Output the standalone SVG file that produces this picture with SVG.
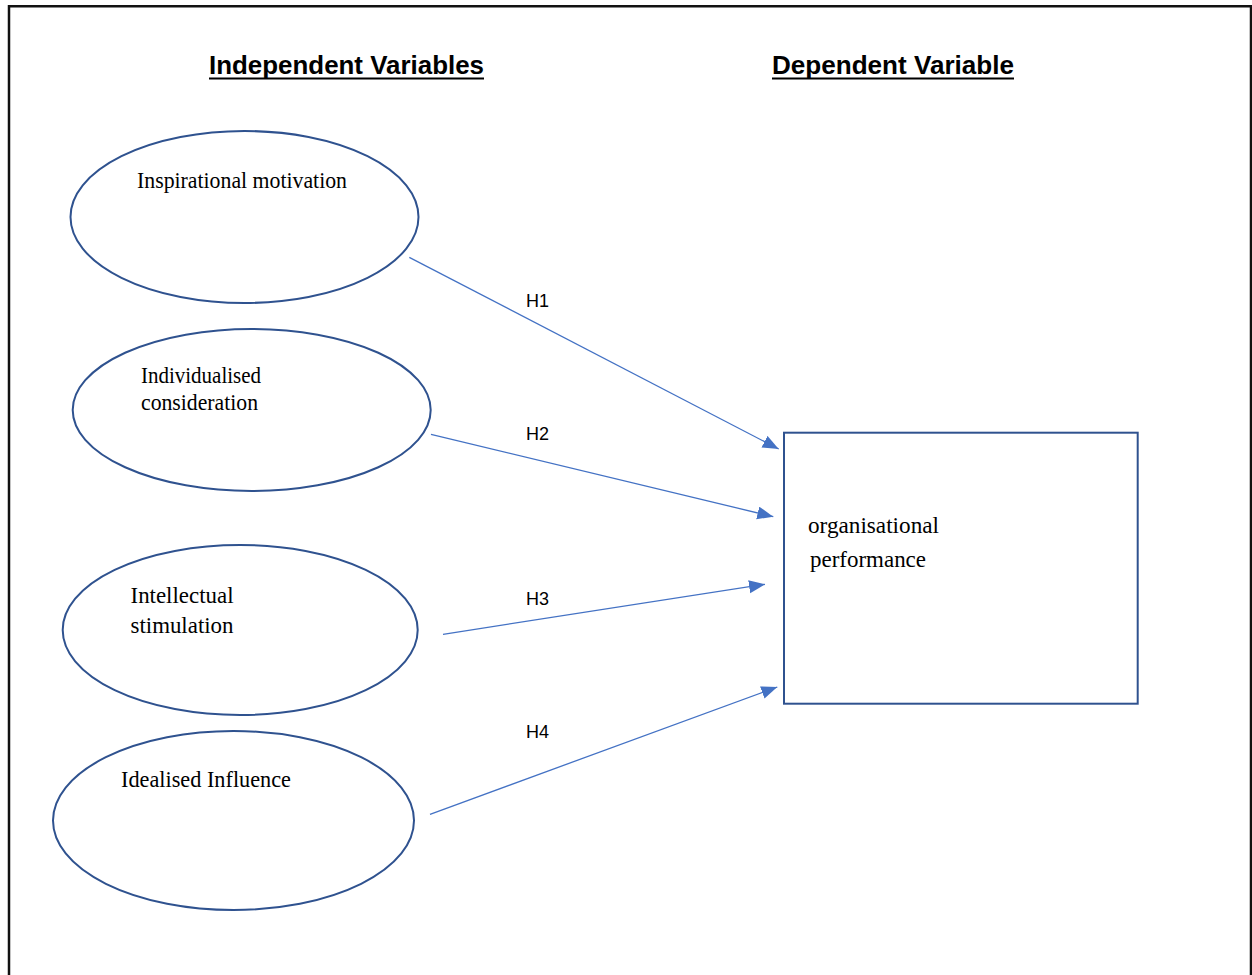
<svg xmlns="http://www.w3.org/2000/svg" width="1252" height="975" viewBox="0 0 1252 975">
  <style>
    .frame { fill: none; stroke: #111111; stroke-width: 2.5; }
    .title { font-family: "Liberation Sans", Arial, sans-serif; font-weight: bold; font-size: 26px; fill: #000000; }
    .uline { stroke: #000000; stroke-width: 2; }
    .node { fill: #ffffff; stroke: #2F528F; stroke-width: 2; }
    .label { font-family: "Liberation Serif", "Times New Roman", serif; font-size: 23px; fill: #000000; }
    .edge { fill: none; stroke: #4472C4; stroke-width: 1.3; marker-end: url(#arrow); }
    .hyp { font-family: "Liberation Sans", Arial, sans-serif; font-size: 18px; fill: #000000; }
  </style>
  <defs>
    <marker id="arrow" markerUnits="userSpaceOnUse" markerWidth="17" markerHeight="14" refX="16" refY="6.5" orient="auto">
      <path d="M0,0 L16,6.5 L0,13 z" fill="#4472C4"/>
    </marker>
  </defs>

  <rect width="1252" height="975" fill="#ffffff"/>

  <!-- page frame: open at the bottom -->
  <path class="frame" d="M9,975 L9,6.3 L1251,6.3 L1251,975"/>

  <!-- column headings -->
  <g id="heading-independent">
    <text class="title" x="209" y="74" textLength="275" lengthAdjust="spacingAndGlyphs">Independent Variables</text>
    <line class="uline" x1="209" y1="78.5" x2="484" y2="78.5"/>
  </g>
  <g id="heading-dependent">
    <text class="title" x="772" y="74" textLength="242" lengthAdjust="spacingAndGlyphs">Dependent Variable</text>
    <line class="uline" x1="772" y1="78.5" x2="1014" y2="78.5"/>
  </g>

  <!-- independent variables -->
  <g id="inspirational-motivation">
    <ellipse class="node" cx="244.5" cy="217" rx="174" ry="86"/>
    <text class="label" x="137" y="188" textLength="210" lengthAdjust="spacingAndGlyphs">Inspirational motivation</text>
  </g>
  <g id="individualised-consideration">
    <ellipse class="node" cx="251.7" cy="410" rx="179" ry="81"/>
    <text class="label" x="141" y="383" textLength="120" lengthAdjust="spacingAndGlyphs">Individualised</text>
    <text class="label" x="141" y="410" textLength="117" lengthAdjust="spacingAndGlyphs">consideration</text>
  </g>
  <g id="intellectual-stimulation">
    <ellipse class="node" cx="240.2" cy="630" rx="177.5" ry="85"/>
    <text class="label" x="130.5" y="603.3" textLength="103" lengthAdjust="spacingAndGlyphs">Intellectual</text>
    <text class="label" x="130.5" y="633" textLength="103" lengthAdjust="spacingAndGlyphs">stimulation</text>
  </g>
  <g id="idealised-influence">
    <ellipse class="node" cx="233.5" cy="820.5" rx="180.5" ry="89.5"/>
    <text class="label" x="121" y="787" textLength="170" lengthAdjust="spacingAndGlyphs">Idealised Influence</text>
  </g>

  <!-- dependent variable -->
  <g id="organisational-performance">
    <rect class="node" x="784" y="432.7" width="353.7" height="271"/>
    <text class="label" x="808" y="533" textLength="131" lengthAdjust="spacingAndGlyphs">organisational</text>
    <text class="label" x="810" y="567" textLength="116" lengthAdjust="spacingAndGlyphs">performance</text>
  </g>

  <!-- hypothesised paths -->
  <g id="connectors">
    <line class="edge" x1="409.3" y1="257.3" x2="778.7" y2="449"/>
    <line class="edge" x1="431" y1="434.3" x2="773.3" y2="516.7"/>
    <line class="edge" x1="443" y1="634.3" x2="765" y2="584.3"/>
    <line class="edge" x1="430" y1="814.3" x2="777.3" y2="687"/>
    <text class="hyp" x="526" y="306.7" textLength="23" lengthAdjust="spacingAndGlyphs">H1</text>
    <text class="hyp" x="526" y="440" textLength="23" lengthAdjust="spacingAndGlyphs">H2</text>
    <text class="hyp" x="526" y="605" textLength="23" lengthAdjust="spacingAndGlyphs">H3</text>
    <text class="hyp" x="526" y="738" textLength="23" lengthAdjust="spacingAndGlyphs">H4</text>
  </g>
</svg>
